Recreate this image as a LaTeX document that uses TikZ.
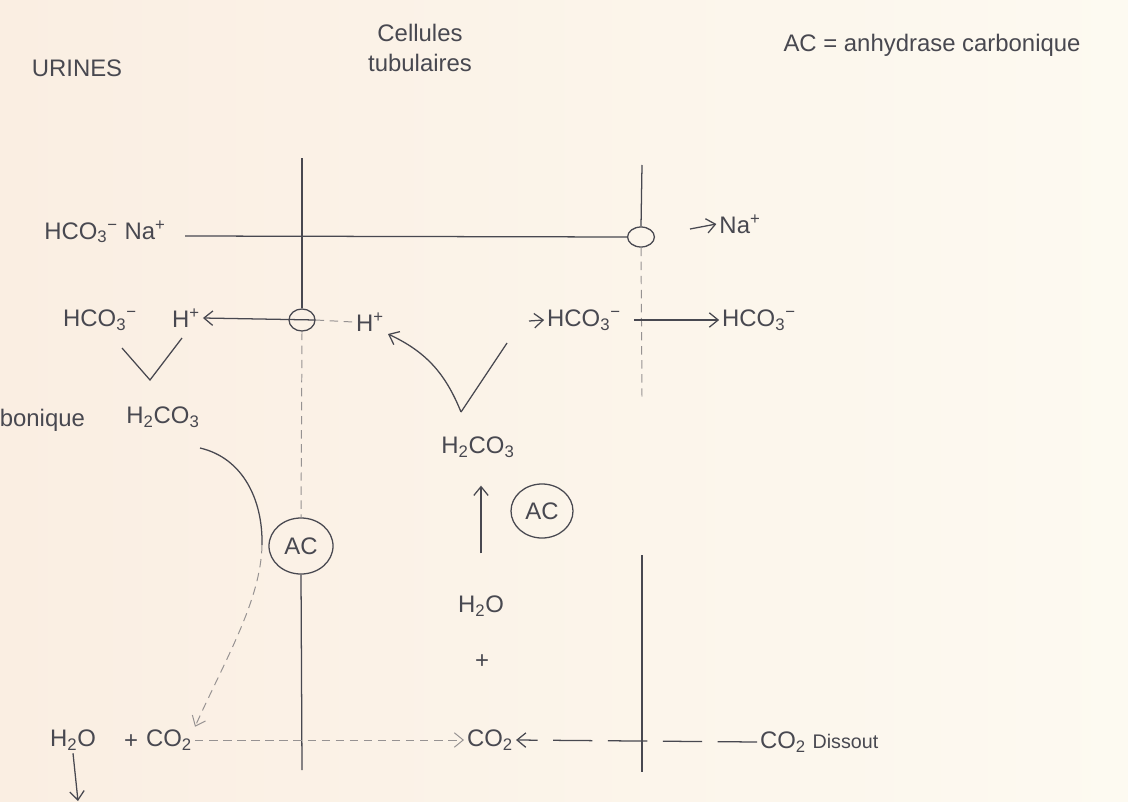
\documentclass[tikz,border=0pt]{standalone}
\usepackage{fontspec}
\setmainfont{Liberation Sans}
\usetikzlibrary{arrows.meta, positioning, shapes.geometric}
\definecolor{paperL}{RGB}{250,238,226}
\definecolor{paperR}{RGB}{253,250,241}
\definecolor{ink}{RGB}{72,72,80}
\definecolor{faint}{RGB}{150,146,146}
\newcommand{\anion}[2]{#1\textsubscript{#2}\textsuperscript{−}}

\begin{document}
\begin{tikzpicture}[x=0.025cm, y=-0.025cm, >={Straight Barb[length=2.2mm, width=3.6mm]},
  every node/.style={text=ink, font=\fontsize{17}{21}\selectfont, inner sep=2pt},
  pen/.style={draw=ink, line width=0.9pt},
  pale/.style={draw=faint, line width=0.7pt, dash pattern=on 6pt off 4pt},
  enzyme/.style={ellipse, draw=ink, line width=0.9pt, minimum width=1.6cm, minimum height=1.4cm, inner sep=0pt},
  pore/.style={ellipse, draw=ink, line width=0.9pt, minimum width=#1, minimum height=0.55cm, inner sep=0pt},
  pore/.default=0.65cm]
  \shade[left color=paperL, right color=paperR] (0,0) rectangle (1128,801);
  \useasboundingbox (0,0) rectangle (1128,801);
  \node (urines) at (77,68) {URINES};
  \node[align=center] (cells) at (420,48) {Cellules\\tubulaires};
  \node (legend) at (932,45) {AC = anhydrase carbonique};
  \node (hcoNa) at (105,232) {\anion{HCO}{3} Na\textsuperscript{+}};
  \node[pore] (pore1) at (302,320) {};
  \node[pore=0.67cm, minimum height=0.5cm] (pore2) at (641,237) {};
  \node (na) at (740,224) {Na\textsuperscript{+}};
  \node (hcoL) at (100,320) {\anion{HCO}{3}};
  \node (hL) at (186,318) {H\textsuperscript{+}};
  \node (hM) at (370,322) {H\textsuperscript{+}};
  \node (hcoM) at (584,320) {\anion{HCO}{3}};
  \node (hcoR) at (759,320) {\anion{HCO}{3}};
  \node (acidL) at (163,417) {H\textsubscript{2}CO\textsubscript{3}};
  \node[anchor=east] (carb) at (88,420) {carbonique};
  \node (acidM) at (478,447) {H\textsubscript{2}CO\textsubscript{3}};
  \node[enzyme] (acL) at (301,546) {AC};
  \node[enzyme, minimum width=1.55cm, minimum height=1.35cm] (acM) at (542,511) {AC};
  \node (waterM) at (481,606) {H\textsubscript{2}O};
  \node (plusM) at (482,662) {+};
  \node (co2M) at (490,740) {CO\textsubscript{2}};
  \node[anchor=west] (co2D) at (757,742) {CO\textsubscript{2} {\fontsize{14}{16}\selectfont Dissout}};
  \node (waterL) at (73,740) {H\textsubscript{2}O};
  \node (plusL) at (131,742) {+};
  \node (co2L) at (169,740) {CO\textsubscript{2}};
  \coordinate (vL) at (150,380);
  \coordinate (vM) at (461,412);
  \coordinate (arcA) at (200,448);
  \coordinate (arcB) at (262,545);
  \coordinate (out) at (78,801);

  \draw[pen] (302,158) -- (pore1.north);
  \draw[pale] (pore1.south) -- (acL.north);
  \draw[pen] (acL.south) -- (302,770);
  \draw[pen] (642,165) -- (pore2.north);
  \draw[pale] (pore2.south) -- (642,398);
  \draw[pen] (642,555) -- (642,772);
  \draw[pen] (185,236) -- (pore2.west);
  \draw[pen, ->] (pore1.east) -- (hL.east);
  \draw[pale] (pore1.east) -- (hM.west);
  \draw[pen] (122,348) -- (vL) -- (182,338);
  \draw[pen, ->] (vM) to[out=112, in=-25] (388,334);
  \draw[pen] (vM) -- (507,343);
  \draw[pen, ->] (529,321) -- (hcoM.west);
  \draw[pen, ->, shorten <=7pt] (hcoM.east) -- (hcoR.west);
  \draw[pen, ->] (690,229) -- (na.west);
  \draw[pen, ->, shorten <=28pt, shorten >=18pt] (waterM.north) -- (waterM.north |- acidM.south);
  \draw[pen] (arcA) .. controls (243,458) and (263,500) .. (arcB);
  \draw[pale, ->] (arcB) .. controls (261,600) and (225,660) .. (co2L.north east);
  \draw[pale, ->] (co2L.east) -- (co2M.west);
  \draw[pen, ->, dash pattern=on 28pt off 11pt] (co2D.west) -- (co2M.east);
  \draw[pen, ->] (waterL.south) -- (out);
\end{tikzpicture}
\end{document}
